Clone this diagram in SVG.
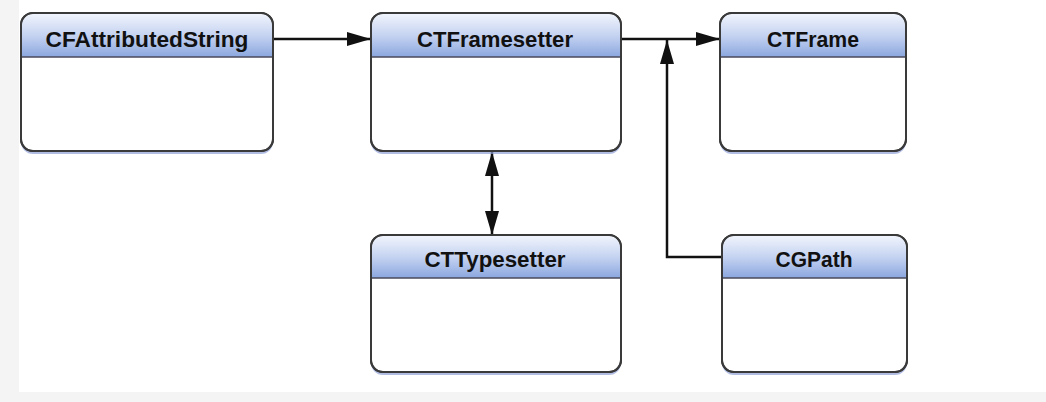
<svg xmlns="http://www.w3.org/2000/svg" width="1046" height="402" viewBox="0 0 1046 402">
<defs>
<linearGradient id="hdr" x1="0" y1="0" x2="0" y2="1">
<stop offset="0" stop-color="#f0f4fc"/>
<stop offset="0.5" stop-color="#c5d3f1"/>
<stop offset="1" stop-color="#8ba7df"/>
</linearGradient>
<marker id="ah" viewBox="0 0 24 14" refX="24" refY="7" markerWidth="24" markerHeight="14" markerUnits="userSpaceOnUse" orient="auto-start-reverse">
<path d="M0,0 L24,7 L0,14 Z" fill="#111"/>
</marker>
</defs>
<style>
.shadow{fill:#8f9fd6;opacity:0.7}
.body{fill:#ffffff;stroke:#3a3a3a;stroke-width:2}
.div{stroke:#4a4a5a;stroke-width:1.5}
.lbl{font-family:"Liberation Sans",Arial,sans-serif;font-weight:bold;font-size:22px;fill:#111;text-anchor:middle}
.con{fill:none;stroke:#111;stroke-width:2.5}
</style>
<rect x="0" y="0" width="1046" height="402" fill="#f4f4f4"/>
<rect x="19" y="0" width="1027" height="392" fill="#ffffff"/>

<g id="connectors">
<line class="con" x1="273" y1="39" x2="371" y2="39" marker-end="url(#ah)"/>
<line class="con" x1="621" y1="39" x2="720" y2="39" marker-end="url(#ah)"/>
<polyline class="con" points="722,257 667,257 667,40" marker-end="url(#ah)"/>
<line class="con" x1="492" y1="152" x2="492" y2="235" marker-start="url(#ah)" marker-end="url(#ah)"/>
</g>

<g id="CFAttributedString">
<rect class="shadow" x="21" y="15" width="252" height="139" rx="12"/>
<rect class="body" x="21" y="13" width="252" height="138" rx="12"/>
<path d="M22,57 V25 A11,11 0 0 1 33,14 H261 A11,11 0 0 1 272,25 V57 Z" fill="url(#hdr)"/>
<line class="div" x1="22" y1="57" x2="272" y2="57"/>
<rect x="21" y="13" width="252" height="138" rx="12" fill="none" stroke="#3a3a3a" stroke-width="2"/>
<text class="lbl" x="147" y="47" textLength="203" lengthAdjust="spacingAndGlyphs">CFAttributedString</text>
</g>

<g id="CTFramesetter">
<rect class="shadow" x="371" y="15" width="250" height="139" rx="12"/>
<rect class="body" x="371" y="13" width="250" height="138" rx="12"/>
<path d="M372,57 V25 A11,11 0 0 1 383,14 H609 A11,11 0 0 1 620,25 V57 Z" fill="url(#hdr)"/>
<line class="div" x1="372" y1="57" x2="620" y2="57"/>
<rect x="371" y="13" width="250" height="138" rx="12" fill="none" stroke="#3a3a3a" stroke-width="2"/>
<text class="lbl" x="495" y="47" textLength="156" lengthAdjust="spacingAndGlyphs">CTFramesetter</text>
</g>

<g id="CTFrame">
<rect class="shadow" x="720" y="15" width="186" height="139" rx="12"/>
<rect class="body" x="720" y="13" width="186" height="138" rx="12"/>
<path d="M721,57 V25 A11,11 0 0 1 732,14 H894 A11,11 0 0 1 905,25 V57 Z" fill="url(#hdr)"/>
<line class="div" x1="721" y1="57" x2="905" y2="57"/>
<rect x="720" y="13" width="186" height="138" rx="12" fill="none" stroke="#3a3a3a" stroke-width="2"/>
<text class="lbl" x="813" y="47" textLength="92" lengthAdjust="spacingAndGlyphs">CTFrame</text>
</g>

<g id="CTTypesetter">
<rect class="shadow" x="371" y="237" width="250" height="138" rx="12"/>
<rect class="body" x="371" y="235" width="250" height="137" rx="12"/>
<path d="M372,278 V247 A11,11 0 0 1 383,236 H609 A11,11 0 0 1 620,247 V278 Z" fill="url(#hdr)"/>
<line class="div" x1="372" y1="278" x2="620" y2="278"/>
<rect x="371" y="235" width="250" height="137" rx="12" fill="none" stroke="#3a3a3a" stroke-width="2"/>
<text class="lbl" x="495" y="267" textLength="141" lengthAdjust="spacingAndGlyphs">CTTypesetter</text>
</g>

<g id="CGPath">
<rect class="shadow" x="722" y="237" width="185" height="138" rx="12"/>
<rect class="body" x="722" y="235" width="185" height="137" rx="12"/>
<path d="M723,278 V247 A11,11 0 0 1 734,236 H895 A11,11 0 0 1 906,247 V278 Z" fill="url(#hdr)"/>
<line class="div" x1="723" y1="278" x2="906" y2="278"/>
<rect x="722" y="235" width="185" height="137" rx="12" fill="none" stroke="#3a3a3a" stroke-width="2"/>
<text class="lbl" x="814" y="267" textLength="77" lengthAdjust="spacingAndGlyphs">CGPath</text>
</g>
</svg>
